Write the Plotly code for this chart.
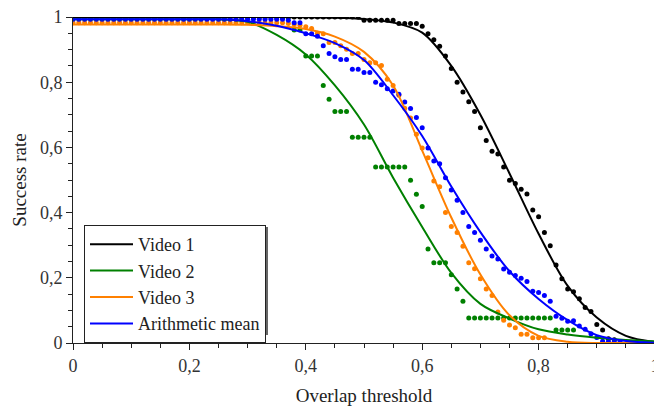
import plotly.graph_objects as go

# Overlap thresholds for the dot series (0.00 .. 1.00 step 0.01)
thresholds = [i / 100 for i in range(101)]

video1_dots = ([1.0] * 50 + [0.99] * 6 + [0.98] * 4 +
               [0.972, 0.949, 0.93, 0.91, 0.88, 0.842, 0.80, 0.77, 0.74, 0.71,
                0.66, 0.621, 0.588, 0.58, 0.54, 0.499, 0.489, 0.472, 0.457, 0.408,
                0.387, 0.339, 0.298, 0.239, 0.197, 0.166, 0.157, 0.136, 0.109, 0.097,
                0.057, 0.040, 0.013, 0.01] + [0.0] * 7)

video2_dots = ([1.0] * 38 + [0.96] * 2 + [0.88] * 3 + [0.79, 0.748] + [0.71] * 3 +
               [0.631] * 4 + [0.54] * 6 + [0.499, 0.456, 0.419, 0.288] + [0.246] * 3 +
               [0.209, 0.166, 0.128] + [0.077] * 15 + [0.04] * 4 + [0.0] * 14)

video3_dots = ([0.982] * 37 +
               [0.98, 0.977, 0.975, 0.97, 0.965, 0.95, 0.949, 0.922, 0.922, 0.912,
                0.901, 0.888, 0.888, 0.87, 0.86, 0.86, 0.851, 0.809, 0.79, 0.76,
                0.72, 0.69, 0.64, 0.598, 0.568, 0.497, 0.479, 0.40, 0.357, 0.339,
                0.297, 0.246, 0.228, 0.197, 0.166, 0.146, 0.095, 0.07, 0.055, 0.047,
                0.027, 0.027, 0.016, 0.016, 0.016] + [0.0] * 19)

mean_dots = ([0.993] * 37 +
             [0.99, 0.982, 0.982, 0.949, 0.949, 0.941, 0.912, 0.888, 0.878, 0.87,
              0.87, 0.84, 0.84, 0.83, 0.83, 0.80, 0.792, 0.78, 0.773, 0.763,
              0.739, 0.719, 0.692, 0.66, 0.598, 0.558, 0.55, 0.507, 0.469, 0.438,
              0.40, 0.357, 0.339, 0.315, 0.288, 0.267, 0.258, 0.227, 0.217, 0.207,
              0.199, 0.189, 0.159, 0.155, 0.146, 0.128, 0.082, 0.076, 0.067, 0.068,
              0.052, 0.042, 0.028, 0.017, 0.005, 0.004, 0.004, 0.004] + [0.0] * 6)

# Fitted curves (0.00 .. 1.00 step 0.05)
curve_x = [i / 20 for i in range(21)]
video1_curve = [1.0, 1.0, 1.0, 1.0, 1.0, 1.0, 1.0, 1.0, 0.999, 0.998, 0.994,
                0.983, 0.952, 0.85, 0.70, 0.52, 0.335, 0.175, 0.078, 0.022, 0.003]
video2_curve = [0.993, 0.993, 0.993, 0.993, 0.993, 0.993, 0.985, 0.945, 0.885, 0.79,
                0.67, 0.507, 0.356, 0.215, 0.12, 0.075, 0.042, 0.026, 0.016, 0.009, 0.005]
video3_curve = [0.977, 0.977, 0.977, 0.977, 0.977, 0.977, 0.976, 0.972, 0.963, 0.94,
                0.893, 0.79, 0.59, 0.385, 0.21, 0.085, 0.022, 0.004, 0.0, 0.0, 0.0]
mean_curve = [0.993, 0.993, 0.993, 0.993, 0.993, 0.993, 0.987, 0.973, 0.95, 0.92,
              0.868, 0.76, 0.635, 0.48, 0.34, 0.22, 0.135, 0.07, 0.024, 0.006, 0.001]

names = ["Video 1", "Video 2", "Video 3", "Arithmetic mean"]
colors = ["#000000", "#008000", "#ff8000", "#0000ff"]
dots = [video1_dots, video2_dots, video3_dots, mean_dots]
curves = [video1_curve, video2_curve, video3_curve, mean_curve]

x_ticks = [0, 0.2, 0.4, 0.6, 0.8, 1]
x_labels = ["0", "0,2", "0,4", "0,6", "0,8", "1"]
y_ticks = [0, 0.2, 0.4, 0.6, 0.8, 1]
y_labels = ["0", "0,2", "0,4", "0,6", "0,8", "1"]

FONT = "Times New Roman, Liberation Serif, serif"

fig = go.Figure()
for name, col, d in zip(names, colors, dots):
    xs = [x for x, y in zip(thresholds, d) if y > 0]
    ys = [y for y in d if y > 0]
    fig.add_trace(go.Scatter(x=xs, y=ys, mode="markers", showlegend=False,
                             marker=dict(color=col, size=5), hoverinfo="skip"))
for name, col, c in zip(names, colors, curves):
    fig.add_trace(go.Scatter(x=curve_x, y=c, mode="lines", name=name,
                             line=dict(color=col, width=2, shape="spline", smoothing=0.9)))

axis_common = dict(showline=True, linecolor="#222222", linewidth=1, ticks="outside",
                   ticklen=6, tickcolor="#222222", showgrid=False, zeroline=False,
                   ticklabeloverflow="allow", automargin=False,
                   tickfont=dict(family=FONT, size=18, color="#333333"),
                   minor=dict(dtick=0.05, ticks="outside", ticklen=4, tickcolor="#222222"))

# plot area in page pixels: x 73..655, y 17..343
TOP = 17
RIGHT = 655
PW, PH = RIGHT - 73.0, 343.0 - TOP
legend_box = (84, 225, 266, 333)  # left, top, right, bottom (page px)
sh = 2
fig.add_shape(type="rect", xref="paper", yref="paper", layer="above",
              x0=(legend_box[0] + sh - 73) / PW, x1=(legend_box[2] + sh - 73) / PW,
              y0=(343 - legend_box[3] - sh) / PH, y1=(343 - legend_box[1] - sh) / PH,
              line=dict(width=0), fillcolor="#666666")

fig.update_layout(
    width=654, height=400,
    margin=dict(l=65, r=654 + 8 - RIGHT, t=TOP - 8, b=65, autoexpand=False),
    paper_bgcolor="white", plot_bgcolor="white",
    separators=", ",
    font=dict(family=FONT, color="#222222"),
    xaxis=dict(range=[0, 1], tickmode="array", tickvals=x_ticks, ticktext=x_labels,
               title=dict(text="Overlap threshold", font=dict(family=FONT, size=19, color="#222222"), standoff=14),
               **axis_common),
    yaxis=dict(range=[0, 1], tickmode="array", tickvals=y_ticks, ticktext=y_labels,
               title=dict(text="Success rate", font=dict(family=FONT, size=19, color="#222222"), standoff=8),
               **axis_common),
    legend=dict(x=(84 - 73) / PW, y=(343 - 225) / PH, xanchor="left", yanchor="top",
                bordercolor="#222222", borderwidth=1, bgcolor="white", itemwidth=43,
                font=dict(family=FONT, size=18, color="#222222"), tracegroupgap=0),
)

fig.write_html("out.html")
